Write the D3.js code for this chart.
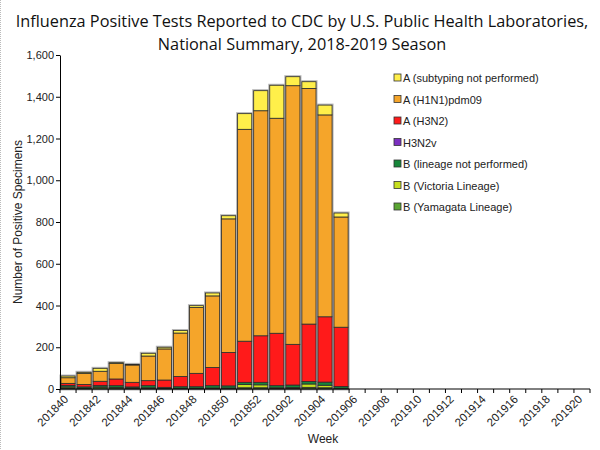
<!DOCTYPE html>
<html>
<head>
<meta charset="utf-8">
<script src="https://cdn.jsdelivr.net/npm/d3@7/dist/d3.min.js"></script>
<style>
  body { margin: 0; background: #fff; }
  svg { display: block; }
</style>
</head>
<body>
<div id="chart"></div>
<script>
// weeks on the x axis, 201840 .. 201920
const weeks = [
  '201840', '201841', '201842', '201843', '201844', '201845', '201846', '201847',
  '201848', '201849', '201850', '201851', '201852', '201901', '201902', '201903',
  '201904', '201905', '201906', '201907', '201908', '201909', '201910', '201911',
  '201912', '201913', '201914', '201915', '201916', '201917', '201918', '201919',
  '201920',
];
const tickWeeks = weeks.filter((w, i) => i % 2 === 0);

// series values (weeks 201840 .. 201905)
const bYamagata = [5, 2, 8, 6, 3, 4, 2, 3, 3, 3, 3, 6, 6, 3, 4, 8, 6, 2];
const bVictoria = [5, 2, 2, 2, 2, 2, 1, 1, 1, 2, 2, 16, 14, 3, 3, 16, 12, 2];
const bNotPerformed = [7, 6, 7, 8, 5, 10, 5, 7, 7, 11, 10, 10, 12, 10, 12, 12, 15, 8];
const h3n2v = [0, 0, 0, 0, 0, 0, 0, 0, 0, 0, 0, 0, 0, 0, 0, 0, 0, 0];
const aH3N2 = [10, 12, 20, 32, 22, 24, 35, 49, 64, 87, 160, 197, 223, 251, 195, 275, 313, 284];
const aH1N1 = [27, 53, 48, 75, 83, 118, 149, 208, 315, 343, 640, 1015, 1078, 1030, 1239, 1129, 967, 528];
const aNotSubtyped = [8, 5, 14, 3, 3, 13, 8, 12, 9, 14, 15, 75, 96, 158, 43, 32, 47, 19];

const yTicks = [0, 200, 400, 600, 800, 1000, 1200, 1400, 1600];

// stacking order bottom -> top
const series = [
  { key: 'yam', name: 'B (Yamagata Lineage)', color: '#5aa532', values: bYamagata },
  { key: 'vic', name: 'B (Victoria Lineage)', color: '#c6df1f', values: bVictoria },
  { key: 'bnp', name: 'B (lineage not performed)', color: '#17873a', values: bNotPerformed },
  { key: 'v', name: 'H3N2v', color: '#7b2fc0', values: h3n2v },
  { key: 'h3', name: 'A (H3N2)', color: '#ff1a1a', values: aH3N2 },
  { key: 'h1', name: 'A (H1N1)pdm09', color: '#f5a52a', values: aH1N1 },
  { key: 'ans', name: 'A (subtyping not performed)', color: '#ffef4a', values: aNotSubtyped },
];

const width = 600;
const height = 450;
const margin = { left: 60, right: 10, top: 55, bottom: 61 };

const svg = d3.select('#chart').append('svg')
  .attr('width', width)
  .attr('height', height)
  .style('font-family', '"Liberation Sans", Arial, sans-serif');

// faint dotted frame line on the left, as in the source image
svg.append('line')
  .attr('x1', 0.5).attr('x2', 0.5)
  .attr('y1', 0).attr('y2', height)
  .attr('stroke', '#bbb')
  .attr('stroke-dasharray', '1,1');

const x = d3.scaleBand()
  .domain(weeks)
  .range([margin.left, width - margin.right])
  .paddingInner(0.12)
  .paddingOuter(0.06);

const y = d3.scaleLinear()
  .domain([0, 1600])
  .range([height - margin.bottom, margin.top]);

// build rows for d3.stack
const rows = weeks.slice(0, bYamagata.length).map((w, i) => {
  const row = { week: w };
  series.forEach((s) => { row[s.key] = s.values[i]; });
  return row;
});

const stack = d3.stack().keys(series.map((s) => s.key));
const stacked = stack(rows);
const total = (d) => d3.sum(series, (s) => d[s.key]);

const plots = svg.append('g').attr('class', 'plots');

// light halo behind each bar
plots.selectAll('rect.halo')
  .data(rows)
  .enter()
  .append('rect')
  .attr('class', 'halo')
  .attr('x', (d) => x(d.week))
  .attr('width', x.bandwidth())
  .attr('y', (d) => y(total(d)))
  .attr('height', (d) => y(0) - y(total(d)))
  .attr('fill', 'none')
  .attr('stroke', '#b5b5b5')
  .attr('stroke-width', 3);

stacked.forEach((layer, li) => {
  plots.append('g')
    .attr('class', `layer ${layer.key}`)
    .selectAll('rect')
    .data(layer)
    .enter()
    .append('rect')
    .attr('x', (d) => x(d.data.week))
    .attr('width', x.bandwidth())
    .attr('y', (d) => y(d[1]))
    .attr('height', (d) => y(d[0]) - y(d[1]))
    .attr('fill', series[li].color)
    .attr('stroke', (d) => (d[1] - d[0] > 0 ? '#2b2b2b' : 'none'))
    .attr('stroke-width', 0.8);
});

// y axis
const yAxis = svg.append('g')
  .attr('transform', `translate(${margin.left},0)`)
  .call(d3.axisLeft(y).tickValues(yTicks).tickSize(4).tickSizeOuter(0)
    .tickFormat(d3.format(',')));
yAxis.select('.domain').attr('stroke', '#000');
yAxis.selectAll('.tick line').attr('stroke', '#000');
yAxis.selectAll('.tick text')
  .attr('font-size', '11px')
  .attr('fill', '#222')
  .attr('x', -6);

// x axis: tick marks at every week boundary
const xg = svg.append('g')
  .attr('transform', `translate(0,${y(0)})`);
xg.append('line')
  .attr('x1', margin.left).attr('x2', width - margin.right)
  .attr('stroke', '#000');
xg.selectAll('line.wk')
  .data(weeks.concat(['end']))
  .enter()
  .append('line')
  .attr('class', 'wk')
  .attr('x1', (d, i) => margin.left + i * x.step())
  .attr('x2', (d, i) => margin.left + i * x.step())
  .attr('y1', 0)
  .attr('y2', 4)
  .attr('stroke', '#000');
xg.selectAll('text')
  .data(tickWeeks)
  .enter()
  .append('text')
  .attr('font-size', '11.5px')
  .attr('fill', '#222')
  .attr('text-anchor', 'end')
  .attr('transform', (d) => `translate(${x(d) + x.bandwidth() / 2 + 1},11) rotate(-45)`)
  .text((d) => d);

// axis titles
svg.append('text')
  .attr('x', 323)
  .attr('y', 443)
  .attr('text-anchor', 'middle')
  .attr('font-size', '12px')
  .attr('fill', '#222')
  .text('Week');

svg.append('text')
  .attr('transform', `translate(22,${(y(0) + y(1600)) / 2}) rotate(-90)`)
  .attr('text-anchor', 'middle')
  .attr('font-size', '12px')
  .attr('fill', '#222')
  .text('Number of Positive Specimens');

// title
const title = svg.append('text')
  .attr('text-anchor', 'middle')
  .attr('font-size', '16.3px')
  .attr('fill', '#111')
  .style('font-family', '"Open Sans", "Noto Sans", sans-serif');
title.append('tspan').attr('x', 302).attr('y', 27)
  .text('Influenza Positive Tests Reported to CDC by U.S. Public Health Laboratories,');
title.append('tspan').attr('x', 302).attr('y', 50)
  .text('National Summary, 2018-2019 Season');

// legend, top entry is the top of the stack
const legend = svg.append('g').attr('class', 'legend');
const legendItems = series.slice().reverse();
const item = legend.selectAll('g')
  .data(legendItems)
  .enter()
  .append('g')
  .attr('transform', (d, i) => `translate(394,${78 + i * 21.5})`);
item.append('rect')
  .attr('x', 0).attr('y', -4)
  .attr('width', 7).attr('height', 7)
  .attr('fill', (d) => d.color)
  .attr('stroke', '#333')
  .attr('stroke-width', 0.8);
item.append('text')
  .attr('x', 9)
  .attr('y', 4)
  .attr('font-size', '11px')
  .attr('fill', '#222')
  .text((d) => d.name);
</script>
</body>
</html>
